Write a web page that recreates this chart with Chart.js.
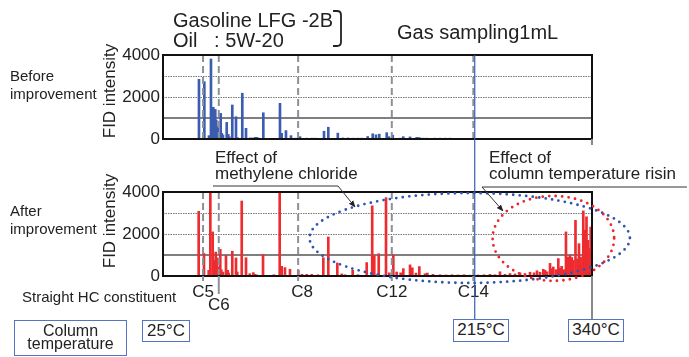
<!DOCTYPE html>
<html>
<head>
<meta charset="utf-8">
<script src="https://cdn.jsdelivr.net/npm/chart.js@4.4.1/dist/chart.umd.min.js"></script>
<style>
  body { margin: 0; background: #fff; }
  #wrap { position: relative; width: 689px; height: 357px; overflow: hidden; background: #fff;
          font-family: "Liberation Sans", Arial, Helvetica, sans-serif; color: #222; }
  canvas, svg { position: absolute; left: 0; top: 0; }
  .t { position: absolute; white-space: pre; }
  .side { font-size: 15px; line-height: 18px; }
  .ytitle { font-size: 17px; width: 120px; height: 20px; line-height: 20px; text-align: center; transform: rotate(-90deg); }
  .note { font-size: 17px; line-height: 15.5px; }
  .box { position: absolute; box-sizing: border-box; border: 1.5px solid #5672c2; text-align: center; font-size: 17px; background: #fff; }
</style>
</head>
<body>
<div id="wrap">
  <canvas id="beforeChart" width="689" height="357"></canvas>
  <canvas id="afterChart" width="689" height="357"></canvas>
  <svg width="689" height="357">
    <defs>
      <marker id="arr" viewBox="0 0 10 10" refX="9" refY="5" markerWidth="7" markerHeight="7" orient="auto">
        <path d="M0,1 L10,5 L0,9 z" fill="#222"/>
      </marker>
    </defs>
    <polyline points="213,186 338,186 355,207" fill="none" stroke="#333" stroke-width="1" marker-end="url(#arr)"/>
    <polyline points="687,187 482,187 503,211" fill="none" stroke="#333" stroke-width="1" marker-end="url(#arr)"/>
    <path d="M333,11 h4 q4,0 4,4 v27 q0,4 -4,4 h-4" fill="none" stroke="#222" stroke-width="1.8"/>
  </svg>

  <div class="t" style="left:173px;top:10px;font-size:20px;line-height:20px;">Gasoline LFG -2B</div>
  <div class="t" style="left:173px;top:30px;font-size:20px;line-height:20px;">Oil   : 5W-20</div>
  <div class="t" style="left:397px;top:22px;font-size:20px;line-height:20px;">Gas sampling1mL</div>

  <div class="t side" style="left:10px;top:67px;">Before
improvement</div>
  <div class="t side" style="left:10px;top:202px;">After
improvement</div>
  <div class="t ytitle" style="left:50px;top:81px;">FID intensity</div>
  <div class="t ytitle" style="left:50px;top:211px;">FID intensity</div>

  <div class="t note" style="left:215px;top:150px;">Effect of
methylene chloride</div>
  <div class="t note" style="left:489px;top:150px;width:186px;overflow:hidden;">Effect of
column temperature rising</div>

  <div class="t" style="left:22px;top:288px;font-size:15px;line-height:18px;">Straight HC constituent</div>

  <div class="box" style="left:14px;top:320px;width:113px;height:36px;font-size:16px;line-height:13px;padding-top:3px;">Column<br>temperature</div>
  <div class="box" style="left:142px;top:320px;width:48px;height:22px;line-height:19px;">25°C</div>
  <div class="box" style="left:453px;top:319px;width:56px;height:23px;line-height:20px;">215°C</div>
  <div class="box" style="left:568px;top:319px;width:56px;height:23px;line-height:20px;">340°C</div>
</div>

<script>
const FONT = '"Liberation Sans", Arial, Helvetica, sans-serif';
Chart.defaults.font.family = FONT;

// retention time (min) and FID intensity, before improvement
const beforeTime = [5.03, 5.78, 6.43, 6.71, 7.03, 7.31, 7.45, 7.65, 8.07, 8.21, 8.39, 8.91, 9.13, 9.27,
  9.69, 10.21, 10.45, 11.09, 11.61, 12.17, 12.45, 12.87, 13.1, 13.33, 14.03, 15.52, 16.36, 16.6, 17.2,
  17.9, 18.56, 19.16, 20.1, 20.8, 21.26, 22.52, 23.12, 24.45, 25.17, 25.87, 26.57, 27.27, 27.8, 28.63,
  29.33, 29.79, 30.25, 31.29, 31.6, 32.13, 33.15, 33.6, 34.55, 35.48, 35.85, 36.36, 36.88, 38.04, 38.74,
  39.44, 40.14];
const beforeFid = [2840, 2730, 160, 3810, 1510, 1410, 900, 590, 1220, 270, 190, 790, 220, 110,
  1620, 1060, 60, 2180, 510, 50, 50, 80, 80, 50, 1250, 30, 1700, 270, 400,
  160, 40, 110, 40, 40, 40, 370, 560, 280, 50, 50, 40, 40, 40, 120,
  250, 200, 230, 300, 110, 180, 40, 110, 100, 80, 70, 40, 40, 40, 40,
  40, 40];

// after improvement
const afterTime = [4.99, 5.73, 6.39, 6.62, 6.95, 7.13, 7.37, 7.55, 7.73, 8.01, 8.15, 8.39, 8.81, 9.05,
  9.19, 9.69, 10.21, 10.39, 11.01, 11.61, 12.13, 12.63, 12.87, 13.1, 13.99, 15.52, 16.32, 16.6, 17.06,
  17.76, 18.92, 19.44, 20.1, 20.8, 21.68, 22.42, 23.12, 24.38, 25.0, 25.45, 26.53, 27.27, 28.49, 29.26,
  29.55, 30.17, 31.19, 31.65, 32.21, 32.68, 33.24, 33.61, 34.55, 34.87, 35.38, 35.85, 36.64, 36.97,
  37.76, 38.74, 39.58, 40.42, 41.26, 42.1, 42.94, 44.06, 44.9, 45.73, 46.43, 47.13, 47.83, 48.53, 49.23,
  49.93, 50.63, 51.33, 51.89, 52.31, 52.73, 53.19, 53.43, 53.71, 54.13, 54.36, 54.59, 54.97, 55.29,
  55.52, 55.76, 56.08, 56.36, 56.6, 56.92, 57.16, 57.38, 57.69, 57.97, 58.18, 58.41, 58.6, 58.78,
  59.02, 59.23, 59.44, 59.62, 59.82];
const afterFid = [3080, 1075, 270, 4000, 2100, 750, 1140, 870, 430, 1270, 300, 190, 980, 270,
  140, 1180, 860, 190, 3570, 870, 110, 160, 80, 50, 1030, 60, 4000, 460, 400,
  320, 270, 80, 80, 80, 60, 870, 1860, 620, 100, 60, 270, 60, 640, 3340,
  960, 1060, 3730, 150, 1010, 190, 150, 350, 530, 390, 140, 450, 110, 140,
  80, 60, 50, 60, 50, 60, 40, 50, 60, 80, 60, 200, 80, 120, 100,
  150, 120, 180, 150, 250, 180, 320, 270, 200, 600, 350, 430, 300, 830,
  380, 460, 300, 2100, 900, 990, 880, 750, 2650, 820, 1540, 900, 500, 3100,
  2180, 2820, 1700, 1300, 2330];

const carbonLabels = ['C5', 'C6', 'C8', 'C12', 'C14'];
const carbonTime = [5.6, 7.8, 18.9, 32.0, 43.4];
const yTicks = [0, 2000, 4000];
const dottedLevels = [2000, 3000];
const solidLevels = [1000];
const time215 = 43.6;   // column reaches 215 C
const runEnd = 60;      // column reaches 340 C

// circled regions (centre time, centre intensity, half widths)
const solventEllipse = { t: 42.9, v: 1810, rt: 22.4, rv: 2140, color: '#2f55b0' };
const rampEllipse = { t: 54.6, v: 1790, rt: 8.5, rv: 2020, color: '#e8262c' };

const tempBoxTop = 320;

const framePlugin = {
    id: 'frame',
    beforeDatasetsDraw(chart) {
        const { ctx, chartArea: a, scales: { y } } = chart;
        ctx.save();
        ctx.lineWidth = 1;
        ctx.strokeStyle = '#777';
        ctx.setLineDash([1.5, 1]);
        dottedLevels.forEach(v => {
            const py = Math.round(y.getPixelForValue(v)) + 0.5;
            ctx.beginPath(); ctx.moveTo(a.left, py); ctx.lineTo(a.right, py); ctx.stroke();
        });
        ctx.setLineDash([]);
        ctx.strokeStyle = '#555';
        ctx.lineWidth = 1.3;
        solidLevels.forEach(v => {
            const py = y.getPixelForValue(v);
            ctx.beginPath(); ctx.moveTo(a.left, py); ctx.lineTo(a.right, py); ctx.stroke();
        });
        ctx.restore();
    },
    afterDatasetsDraw(chart) {
        const { ctx, chartArea: a, scales: { x } } = chart;
        ctx.save();
        ctx.strokeStyle = '#8a9298';
        ctx.lineWidth = 2;
        ctx.setLineDash([7, 4]);
        carbonTime.forEach(t => {
            const px = x.getPixelForValue(t);
            ctx.beginPath(); ctx.moveTo(px, a.top); ctx.lineTo(px, a.bottom); ctx.stroke();
        });
        ctx.setLineDash([]);
        ctx.strokeStyle = '#111';
        ctx.lineWidth = 2;
        ctx.strokeRect(a.left, a.top, a.right - a.left, a.bottom - a.top);
        ctx.restore();
    }
};

function drawEllipse(ctx, x, y, e) {
    const cx = x.getPixelForValue(e.t), cy = y.getPixelForValue(e.v);
    const rx = x.getPixelForValue(e.t + e.rt) - cx;
    const ry = cy - y.getPixelForValue(e.v + e.rv);
    ctx.save();
    ctx.strokeStyle = e.color;
    ctx.lineWidth = 2.8;
    ctx.lineCap = 'round';
    ctx.setLineDash([0, 6.5]);
    ctx.beginPath();
    ctx.ellipse(cx, cy, rx, ry, 0, 0, Math.PI * 2);
    ctx.stroke();
    ctx.restore();
}

function chromatogram(id, times, fid, color, padTop, padBottom, extra) {
    return new Chart(document.getElementById(id), {
        type: 'bar',
        data: {
            datasets: [{
                data: times.map((t, i) => ({ x: t, y: fid[i] })),
                backgroundColor: color,
                borderWidth: 0,
                barThickness: 2
            }]
        },
        options: {
            responsive: false,
            animation: false,
            layout: { padding: { left: 113, right: 97, top: padTop, bottom: padBottom } },
            plugins: { legend: { display: false }, tooltip: { enabled: false } },
            scales: {
                x: { type: 'linear', min: 0, max: runEnd, offset: false, display: false },
                y: {
                    min: 0,
                    max: 4000,
                    afterFit: s => { s.width = 50; },
                    afterBuildTicks: s => { s.ticks = yTicks.map(v => ({ value: v })); },
                    grid: { display: false, drawTicks: false },
                    border: { display: false },
                    ticks: { padding: 3, color: '#222', font: { size: 17 }, callback: v => String(v) }
                }
            }
        },
        plugins: [framePlugin, extra]
    });
}

const beforeChart = chromatogram('beforeChart', beforeTime, beforeFid, '#3b5cb0', 55, 218, {
    id: 'beforeExtra',
    afterDraw(chart) {
        const { ctx, chartArea: a, scales: { x } } = chart;
        ctx.save();
        ctx.strokeStyle = '#888';
        ctx.lineWidth = 2;
        const px = x.getPixelForValue(runEnd);
        ctx.beginPath(); ctx.moveTo(px, a.bottom); ctx.lineTo(px, a.bottom + 6); ctx.stroke();
        ctx.restore();
    }
});

const afterChart = chromatogram('afterChart', afterTime, afterFid, '#ee2b2f', 192, 81, {
    id: 'afterExtra',
    afterDraw(chart) {
        const { ctx, chartArea: a, scales: { x, y } } = chart;
        // short ticks and carbon-number labels under the axis
        ctx.save();
        ctx.strokeStyle = '#8a9298';
        ctx.lineWidth = 2;
        ctx.fillStyle = '#222';
        ctx.font = '17px ' + FONT;
        ctx.textAlign = 'center';
        ctx.textBaseline = 'middle';
        carbonTime.forEach((t, i) => {
            const px = x.getPixelForValue(t);
            const low = carbonLabels[i] === 'C6';
            ctx.beginPath(); ctx.moveTo(px, a.bottom); ctx.lineTo(px, a.bottom + (low ? 18 : 5)); ctx.stroke();
            ctx.fillText(carbonLabels[i], px + (carbonLabels[i] === 'C8' ? 4 : 0), a.bottom + (low ? 29 : 16));
        });
        // column temperature markers
        const p215 = x.getPixelForValue(time215);
        ctx.strokeStyle = '#3a5cb5';
        ctx.lineWidth = 1.2;
        ctx.beginPath(); ctx.moveTo(p215, beforeChart.chartArea.top); ctx.lineTo(p215, tempBoxTop); ctx.stroke();
        const pEnd = x.getPixelForValue(runEnd);
        ctx.strokeStyle = '#888';
        ctx.lineWidth = 2;
        ctx.beginPath(); ctx.moveTo(pEnd, a.bottom); ctx.lineTo(pEnd, tempBoxTop); ctx.stroke();
        ctx.restore();
        drawEllipse(ctx, x, y, solventEllipse);
        drawEllipse(ctx, x, y, rampEllipse);
    }
});
</script>
</body>
</html>
